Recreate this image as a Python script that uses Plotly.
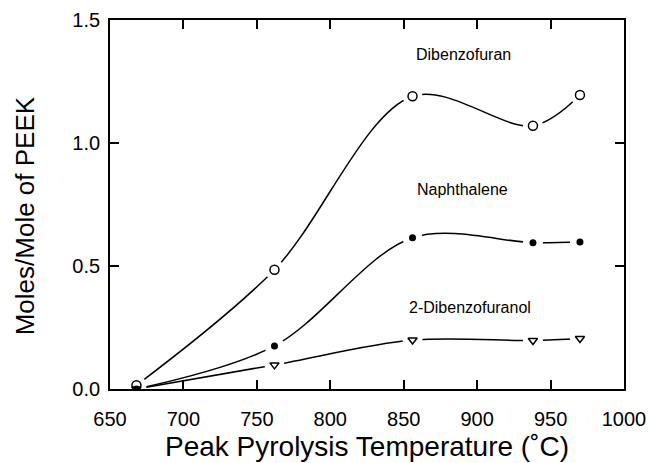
import plotly.graph_objects as go

temps = [668, 762, 856, 938, 970]
dibenzofuran = [0.015, 0.485, 1.19, 1.07, 1.195]
naphthalene = [0.0, 0.175, 0.615, 0.595, 0.598]
dibenzofuranol = [0.0, 0.098, 0.199, 0.197, 0.205]

series = [
    ("Dibenzofuran", dibenzofuran, dict(symbol="circle-open", size=9, color="black", line=dict(width=1.5))),
    ("Naphthalene", naphthalene, dict(symbol="circle", size=7, color="black")),
    ("2-Dibenzofuranol", dibenzofuranol, dict(symbol="triangle-down-open", size=8, color="black", line=dict(width=1.5))),
]

fig = go.Figure()
for name, ys, mk in series:
    fig.add_trace(go.Scatter(x=temps, y=ys, mode="lines", line=dict(color="black", width=1.5, shape="spline", smoothing=0.95), showlegend=False, hoverinfo="skip"))
for name, ys, mk in series:
    fig.add_trace(go.Scatter(x=temps, y=ys, mode="markers", marker=dict(symbol="circle", size=20, color="white"), showlegend=False, hoverinfo="skip"))
for name, ys, mk in series:
    fig.add_trace(go.Scatter(x=temps, y=ys, mode="markers", marker=mk, name=name, showlegend=False))

labels = [("Dibenzofuran", 463, 1.358), ("Naphthalene", 462, 0.81), ("2-Dibenzofuranol", 470, 0.333)]
for txt, px, y in labels:
    fig.add_annotation(x=650 + (px - 109.5) / 1.47, y=y, text=txt, showarrow=False,
                       font=dict(family="Liberation Sans, Arial", size=16, color="black"))

# y-axis title placed as a rotated annotation
fig.add_annotation(xref="paper", yref="paper", x=0, y=0.468, xshift=-85, xanchor="center", yanchor="middle",
                   text="Moles/Mole of PEEK", textangle=-90, showarrow=False,
                   font=dict(family="Liberation Sans, Arial", size=26, color="black"))

fig.update_layout(
    width=652, height=463,
    margin=dict(l=110, r=28, t=20, b=74),
    paper_bgcolor="white", plot_bgcolor="white",
    font=dict(family="Liberation Sans, Arial", color="black"),
)
fig.update_xaxes(range=[650, 1000], tickvals=[650, 700, 750, 800, 850, 900, 950, 1000],
                 ticks="inside", ticklen=9, tickwidth=1.5, tickcolor="black",
                 showline=True, linecolor="black", linewidth=1.8, mirror="ticks",
                 showgrid=False, zeroline=False, tickfont=dict(size=20), automargin=False,
                 ticklabelstandoff=11,
                 title=dict(text="Peak Pyrolysis Temperature (˚C)", font=dict(size=28), standoff=7))
fig.update_yaxes(range=[0, 1.5], tickvals=[0, 0.5, 1.0, 1.5], tickformat=".1f",
                 ticks="inside", ticklen=9, tickwidth=1.5, tickcolor="black",
                 showline=True, linecolor="black", linewidth=1.8, mirror="ticks",
                 showgrid=False, zeroline=False, tickfont=dict(size=20), automargin=False,
                 ticklabelstandoff=4)

fig.write_html("out.html")
